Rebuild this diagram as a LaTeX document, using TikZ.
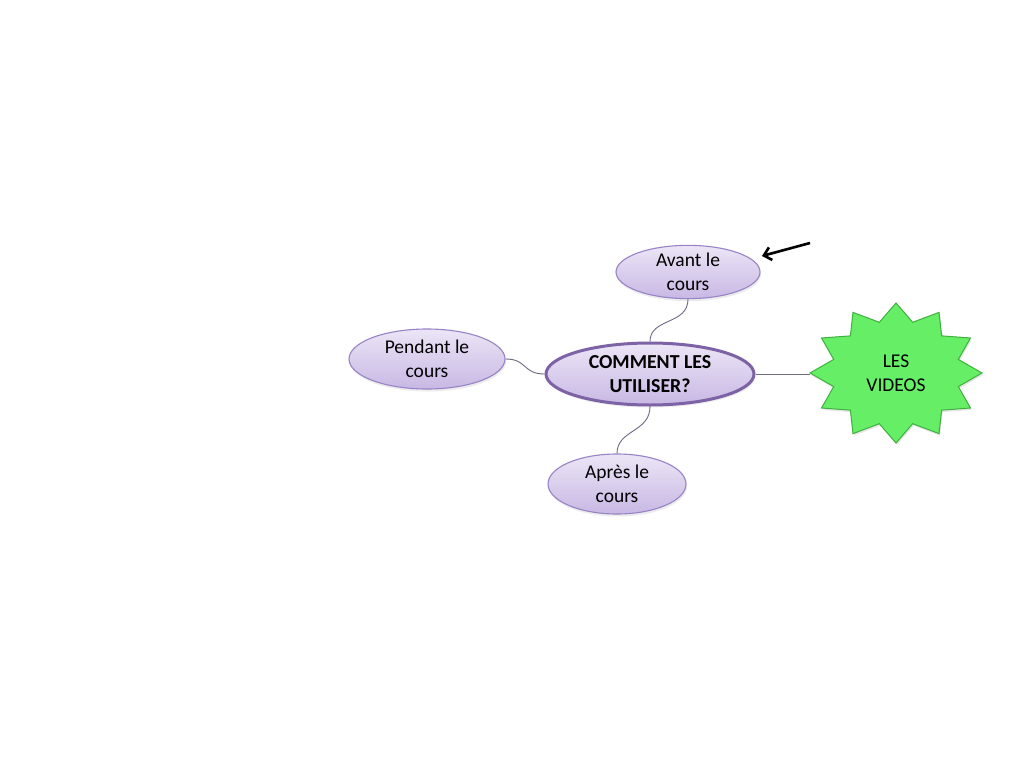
\documentclass[tikz,border=0pt]{standalone}
\usepackage{fontspec}
\setmainfont{Carlito}
\usetikzlibrary{shapes.geometric,arrows.meta,shadows}
\definecolor{smallborder}{HTML}{9783C6}
\definecolor{mainborder}{HTML}{7E62A6}
\definecolor{filltop}{HTML}{ECE5F6}
\definecolor{fillbot}{HTML}{C8B8E4}
\definecolor{conn}{HTML}{6E6A86}
\definecolor{starfill}{HTML}{66EE66}
\definecolor{starline}{HTML}{3FB03F}
\tikzset{
  bubble/.style={ellipse, draw=smallborder, line width=1.1pt, top color=filltop, bottom color=fillbot,
    inner sep=0pt, align=center, font=\fontsize{19.5}{24}\selectfont,
    drop shadow={opacity=0.15, shadow xshift=1pt, shadow yshift=-2.5pt}},
  hub/.style={bubble, draw=mainborder, line width=3pt, font=\fontsize{19.8}{24}\selectfont\bfseries},
  link/.style={draw=conn, line width=0.9pt},
  pointer/.style={draw=black, line width=2.6pt, -{Straight Barb[length=7pt,width=13pt,line width=2.6pt]}},
}
\begin{document}
\begin{tikzpicture}[x=1pt,y=-1pt]
\useasboundingbox[fill=white] (0,0) rectangle (1024,768);
% star
\fill[black,opacity=0.10] plot[samples at={0,...,23}, variable=\i]
  ({897+86*(1-0.25*mod(\i,2))*cos(90+15*\i)},{375-70*(1-0.25*mod(\i,2))*sin(90+15*\i)}) -- cycle;
\draw[fill=starfill, draw=starline, line width=1pt, line join=miter] plot[samples at={0,...,23}, variable=\i]
  ({896+86*(1-0.25*mod(\i,2))*cos(90+15*\i)},{373-70*(1-0.25*mod(\i,2))*sin(90+15*\i)}) -- cycle;
\node[align=center, font=\fontsize{19.5}{24}\selectfont] (videos) at (896,373) {LES\\VIDEOS};
\coordinate (vidL) at (810,374);

\node[hub, minimum width=208pt, minimum height=62pt] (hub) at (650,374) {COMMENT LES\\UTILISER?};
\node[bubble, minimum width=144pt, minimum height=53pt] (avant) at (688,272) {Avant le\\cours};
\node[bubble, minimum width=156pt, minimum height=60pt] (pendant) at (427,359) {Pendant le\\cours};
\node[bubble, minimum width=138pt, minimum height=60pt] (apres) at (617,484) {Après le\\cours};

\coordinate (arrS) at (810,243);
\coordinate (arrE) at (762,256);

\draw[link] (avant.south) .. controls +(0,26) and +(0,-24) .. (hub.north);
\draw[link] (pendant.east) .. controls +(22,0) and +(-22,0) .. (hub.west);
\draw[link] (hub.south) .. controls +(0,26) and +(0,-24) .. (apres.north);
\draw[link] (hub.east) -- (vidL);
\draw[pointer] (arrS) -- (arrE);
\end{tikzpicture}
\end{document}
